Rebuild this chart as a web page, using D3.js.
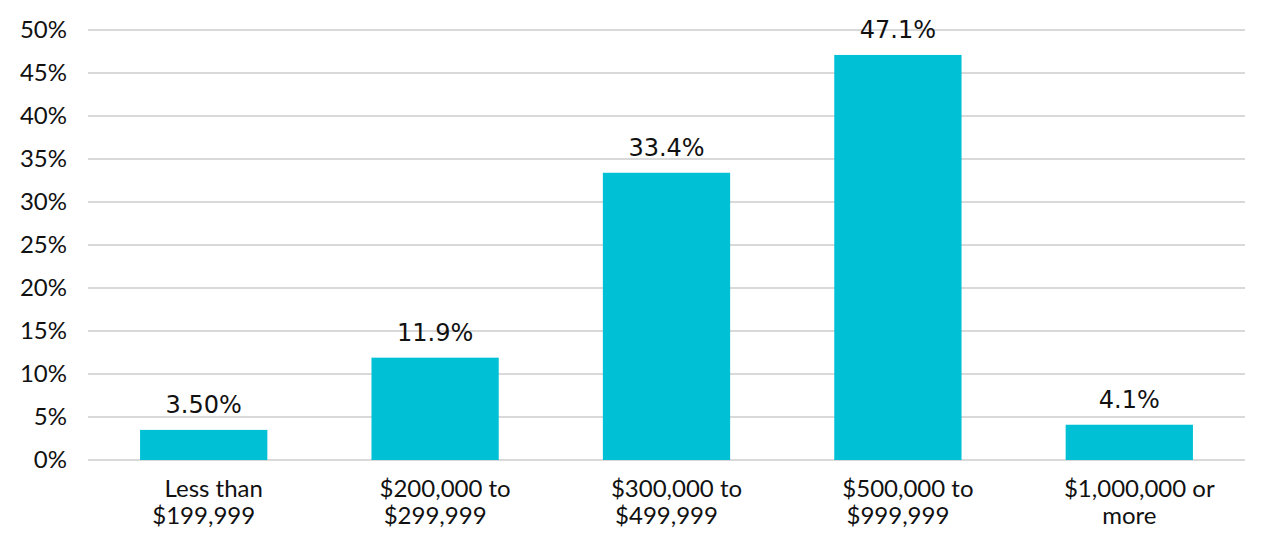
<!DOCTYPE html>
<html>
<head>
<meta charset="utf-8">
<script src="https://cdn.jsdelivr.net/npm/d3@7"></script>
<style>
  body { margin: 0; background: #fff; }
  svg text { font-family: Lato, "Noto Sans", sans-serif; fill: #111; }
  svg text.val { font-family: "DejaVu Sans", sans-serif; }
</style>
</head>
<body>
<svg id="chart" width="1276" height="546"></svg>
<script>
// chart data
const categories = ["Less than $199,999", "$200,000 to $299,999", "$300,000 to $499,999", "$500,000 to $999,999", "$1,000,000 or more"];
const labelLines = [["Less than", "$199,999"], ["$200,000 to", "$299,999"], ["$300,000 to", "$499,999"], ["$500,000 to", "$999,999"], ["$1,000,000 or", "more"]];
const values = [3.5, 11.9, 33.4, 47.1, 4.1];
const valueLabels = ["3.50%", "11.9%", "33.4%", "47.1%", "4.1%"];
const yTicks = [0, 5, 10, 15, 20, 25, 30, 35, 40, 45, 50];

const svg = d3.select("#chart");
const margin = { top: 30, right: 31, bottom: 86, left: 88 };
const width = 1276 - margin.left - margin.right;
const height = 546 - margin.top - margin.bottom;

const g = svg.append("g")
  .attr("transform", "translate(" + margin.left + "," + margin.top + ")");

const x = d3.scaleBand()
  .domain(categories)
  .range([0, width])
  .paddingInner(0.45)
  .paddingOuter(0.225);

const y = d3.scaleLinear()
  .domain([0, 50])
  .range([height, 0]);

// gridlines
g.selectAll(".grid")
  .data(yTicks)
  .enter()
  .append("line")
  .attr("class", "grid")
  .attr("x1", 0)
  .attr("x2", width)
  .attr("y1", d => y(d))
  .attr("y2", d => y(d))
  .attr("stroke", "#d9d9d9")
  .attr("stroke-width", 2);

// y axis labels
const yAxis = g.append("g")
  .call(d3.axisLeft(y).tickValues(yTicks).tickFormat(d => d + "%").tickSize(0).tickPadding(21));
yAxis.select(".domain").remove();
yAxis.selectAll("text")
  .style("font-size", "24px")
  .attr("fill", "#111");

// bars
g.selectAll(".bar")
  .data(values)
  .enter()
  .append("rect")
  .attr("class", "bar")
  .attr("x", (d, i) => x(categories[i]))
  .attr("y", d => y(d))
  .attr("width", x.bandwidth())
  .attr("height", d => height - y(d))
  .attr("fill", "#00c0d6");

// value labels
g.selectAll(".val")
  .data(values)
  .enter()
  .append("text")
  .attr("class", "val")
  .attr("x", (d, i) => x(categories[i]) + x.bandwidth() / 2)
  .attr("y", d => y(d) - 17)
  .attr("text-anchor", "middle")
  .style("font-size", "24px")
  .text((d, i) => valueLabels[i]);

// category labels, two lines each
const cat = g.selectAll(".cat")
  .data(categories)
  .enter()
  .append("text")
  .attr("class", "cat")
  .attr("text-anchor", "middle")
  .style("font-size", "24px")
  .attr("transform", d => "translate(" + (x(d) + x.bandwidth() / 2) + "," + (height + 37) + ")");

cat.selectAll("tspan")
  .data((d, i) => labelLines[i])
  .enter()
  .append("tspan")
  .attr("x", (d, j) => j === 0 ? 10 : 0)
  .attr("dy", (d, j) => j === 0 ? 0 : 27)
  .text(d => d);
</script>
</body>
</html>
